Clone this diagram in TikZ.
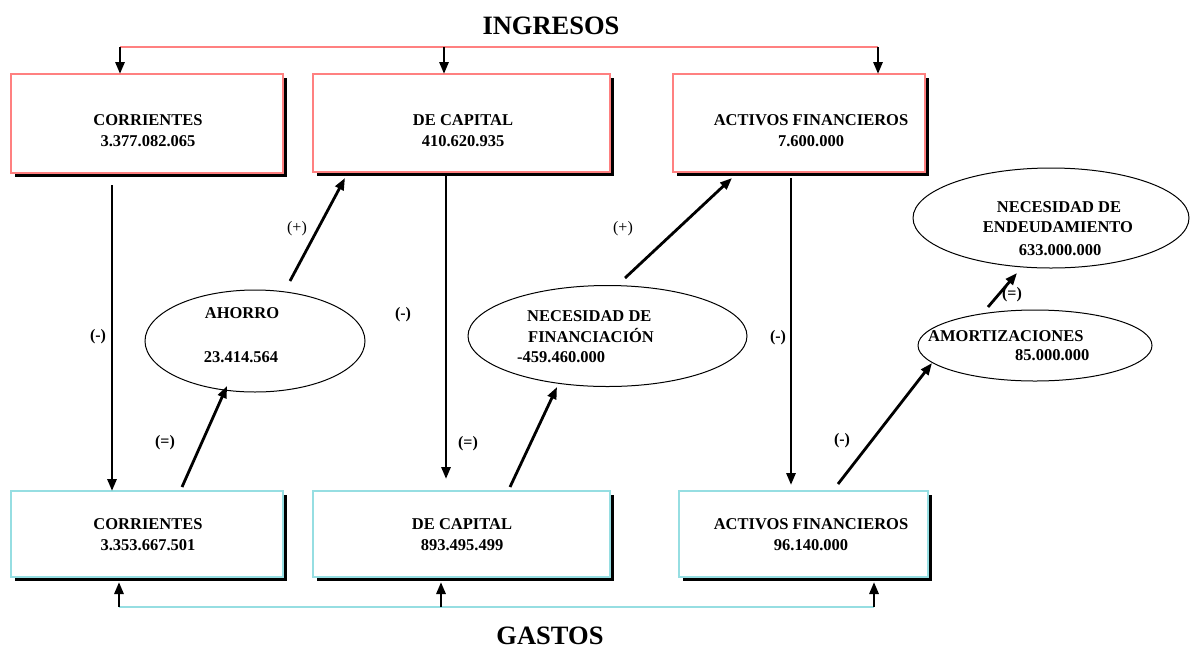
\documentclass[tikz,border=0pt]{standalone}
\usepackage{fontspec}
\setmainfont{Liberation Serif}
\usetikzlibrary{arrows.meta,shadows,shapes.geometric}
\definecolor{ingr}{RGB}{255,128,128}
\definecolor{gast}{RGB}{150,222,226}
\begin{document}
\begin{tikzpicture}[x=1pt,y=-1pt,
  boxbase/.style={rectangle,fill=white,line width=2pt,inner sep=0pt,outer sep=0pt,
    general shadow={fill=black,shadow xshift=4pt,shadow yshift=-4pt}},
  redbox/.style={boxbase,draw=ingr},
  cyanbox/.style={boxbase,draw=gast},
  oval/.style={ellipse,draw=black,line width=1pt,inner sep=0pt,outer sep=0pt},
  txt/.style={font=\fontsize{16.5}{21}\selectfont\bfseries,align=center,inner sep=0pt},
  lbl/.style={font=\fontsize{16}{19}\selectfont\bfseries,inner sep=0pt},
  lblr/.style={font=\fontsize{16}{19}\selectfont,inner sep=0pt},
  ttl/.style={font=\fontsize{26.5}{30}\selectfont\bfseries,inner sep=0pt},
  arr/.style={line width=2.8pt,-{Triangle[length=12pt,width=9pt]}},
  ingline/.style={draw=ingr,line width=2.2pt},
  gasline/.style={draw=gast,line width=2.6pt}
]
\useasboundingbox (0,0) rectangle (1190,651);

% titles
\node[ttl,anchor=center] (ting) at (551,26) {INGRESOS};
\node[ttl,anchor=center] (tgas) at (550,636) {GASTOS};

% top boxes
\node[redbox,minimum width=272.5pt,minimum height=99pt] (tc) at (146.75,123.5) {};
\node[redbox,minimum width=297pt,minimum height=98pt] (tk) at (461.5,123) {};
\node[redbox,minimum width=252pt,minimum height=98pt] (ta) at (799,123) {};
\node[txt] (tct) at (148,130.5) {CORRIENTES\\3.377.082.065};
\node[txt] (tkt) at (463,131) {DE CAPITAL\\410.620.935};
\node[txt] (tat) at (811,131) {ACTIVOS FINANCIEROS\\7.600.000};

% bottom boxes
\node[cyanbox,minimum width=272.5pt,minimum height=86pt] (bc) at (146.75,534) {};
\node[cyanbox,minimum width=297pt,minimum height=86pt] (bk) at (461.5,534) {};
\node[cyanbox,minimum width=249pt,minimum height=86pt] (ba) at (803.5,534) {};
\node[txt] (bct) at (148,535) {CORRIENTES\\3.353.667.501};
\node[txt] (bkt) at (462,535) {DE CAPITAL\\893.495.499};
\node[txt] (bat) at (811,535) {ACTIVOS FINANCIEROS\\96.140.000};

% ellipses
\node[oval,minimum width=220pt,minimum height=102pt] (ah) at (255,341) {};
\node[oval,minimum width=279pt,minimum height=101pt] (nf) at (607.5,336) {};
\node[oval,minimum width=276pt,minimum height=100pt] (ne) at (1051,218) {};
\node[oval,minimum width=234pt,minimum height=71pt] (am) at (1035,345.5) {};

\node[txt,anchor=base] (aht1) at (242,318.5) {AHORRO};
\node[txt,anchor=base] (aht2) at (241,362.5) {23.414.564};
\node[txt,anchor=base west] (nft1) at (527,321.5) {NECESIDAD DE};
\node[txt,anchor=base west] (nft2) at (528,342.5) {FINANCIACIÓN};
\node[txt,anchor=base west] (nft3) at (517,362.5) {-459.460.000};
\node[txt,anchor=base] (net1) at (1059,212.5) {NECESIDAD DE};
\node[txt,anchor=base] (net2) at (1058,232.5) {ENDEUDAMIENTO};
\node[txt,anchor=base] (net3) at (1060,255.5) {633.000.000};
\node[txt,anchor=base west] (amt1) at (928,341.5) {AMORTIZACIONES};
\node[txt,anchor=base west] (amt2) at (1015,360.5) {85.000.000};

% top distribution line
\coordinate (r1) at (120,47);
\coordinate (r2) at (444,47);
\coordinate (r3) at (878,47);
\draw[ingline] (r1) -- (r3);
\draw[arr] (r1) -- (r1 |- tc.north);
\draw[arr] (r2) -- (r2 |- tk.north);
\draw[arr] (r3) -- (r3 |- ta.north);

% bottom collection line
\coordinate (g1) at (119,607);
\coordinate (g2) at (441,607);
\coordinate (g3) at (874,607);
\draw[gasline] (g1) -- (g3);
\draw[arr] (g1) -- ([yshift=-5pt]g1 |- bc.south);
\draw[arr] (g2) -- ([yshift=-5pt]g2 |- bk.south);
\draw[arr] (g3) -- ([yshift=-5pt]g3 |- ba.south);

% vertical arrows
\draw[arr] ([xshift=-34.75pt,yshift=-12pt]tc.south) -- ([xshift=-34.75pt]bc.north);
\draw[arr] ([xshift=-15.5pt,yshift=-1pt]tk.south) -- ([xshift=-15.5pt,yshift=12pt]bk.north);
\draw[arr] ([xshift=-8pt,yshift=-6pt]ta.south) -- ([xshift=-12.5pt,yshift=6pt]ba.north);

% diagonal arrows
\draw[arr] ([xshift=35.25pt,yshift=4pt]bc.north) -- ([xshift=-28pt,yshift=-45pt]ah.center);
\draw[arr] ([xshift=35pt,yshift=60pt]ah.center) -- ([xshift=32pt,yshift=-6pt]tk.south west);
\draw[arr] ([xshift=48.5pt,yshift=4pt]bk.north) -- ([xshift=-50.5pt,yshift=-51pt]nf.center);
\draw[arr] ([xshift=17.5pt,yshift=58pt]nf.center) -- ([xshift=59pt,yshift=-6pt]ta.south west);
\draw[arr] ([xshift=34.5pt,yshift=7pt]ba.north) -- ([xshift=-103pt,yshift=-17.5pt]am.center);
\draw[arr] ([xshift=-47pt,yshift=38.5pt]am.center) -- ([xshift=-34pt,yshift=-55pt]ne.center);

% operator labels
\node[lbl] (l1) at (98,337) {(-)};
\node[lbl] (l2) at (165,443) {(=)};
\node[lblr] (l3) at (297,229) {(+)};
\node[lbl] (l4) at (403,315) {(-)};
\node[lbl] (l5) at (468,444) {(=)};
\node[lblr] (l6) at (623,229) {(+)};
\node[lbl] (l7) at (778,338) {(-)};
\node[lbl] (l8) at (842,441) {(-)};
\node[lbl] (l9) at (1012,295) {(=)};
\end{tikzpicture}
\end{document}
